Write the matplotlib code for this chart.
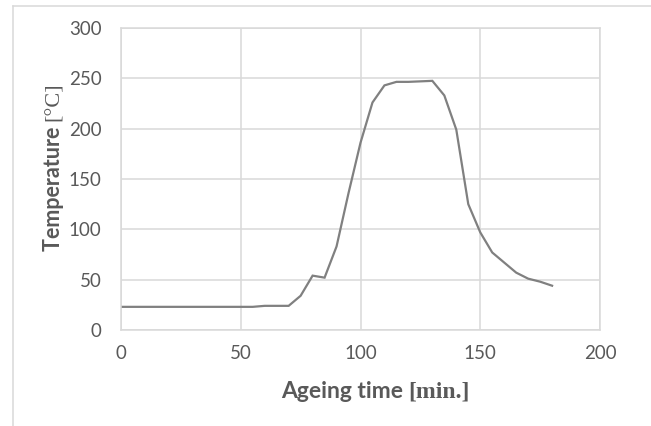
import numpy as np
import matplotlib
matplotlib.use("Agg")
import matplotlib.pyplot as plt
from matplotlib.lines import Line2D

# ageing time [min] and oven temperature [degC]
minutes = [0, 5, 10, 15, 20, 25, 30, 35, 40, 45, 50, 55, 60, 65, 70, 75, 80, 85, 90,
           95, 100, 105, 110, 115, 120, 125, 130, 135, 140, 145, 150, 155, 160, 165,
           170, 175, 180]
temps = [23, 23, 23, 23, 23, 23, 23, 23, 23, 23, 23, 23, 24, 24, 24, 34, 54, 52, 83,
         136, 186, 226, 243, 246.5, 246.5, 247, 247.5, 233, 199, 125, 97, 77, 67, 57,
         51, 48, 44]

x_ticks = [0, 50, 100, 150, 200]
y_ticks = [0, 50, 100, 150, 200, 250, 300]

grid_col = '#d9d9d9'
text_col = '#595959'

fig = plt.figure(figsize=(6.51, 4.26), dpi=100)
ax = fig.add_axes([121/651, 1 - 330/426, 479/651, 302/426])

ax.plot(minutes, temps, color='#808080', lw=1.6, solid_joinstyle='miter')

ax.set_xlim(0, 200)
ax.set_ylim(0, 300)
ax.set_xticks(x_ticks)
ax.set_yticks(y_ticks)
ax.grid(True, color=grid_col, lw=1.1)
ax.set_axisbelow(True)
for s in ax.spines.values():
    s.set_color(grid_col)
    s.set_linewidth(1.1)
ax.tick_params(length=0, labelsize=13.5, colors=text_col)
ax.tick_params(axis='y', pad=14)
ax.tick_params(axis='x', pad=11)
for lab in ax.get_xticklabels() + ax.get_yticklabels():
    lab.set_family('Lato')

# x label: sans part + serif part
t1 = fig.text(281/651, 1 - 392/426, 'Ageing time ', family='Lato', weight='bold',
              size=16.5, color=text_col, va='center', ha='left')
ax.annotate('[min.]', xy=(1, 0.5), xycoords=t1, va='center', ha='left',
            family='Liberation Serif', weight='bold', size=17, color=text_col)

# y label
t2 = fig.text(54/651, 1 - 251/426, 'Temperature ', family='Lato', weight='bold',
              size=15.5, color=text_col, rotation=90, va='bottom', ha='center')
ax.annotate('[°C]', xy=(0.5, 1), xycoords=t2, va='bottom', ha='center', rotation=90,
            family='Liberation Serif', size=16, color=text_col)

# outer chart frame
fig.add_artist(Line2D([13/651, 13/651], [0, 1 - 6/426], transform=fig.transFigure,
                      color=grid_col, lw=1.1))
fig.add_artist(Line2D([13/651, 1], [1 - 6/426, 1 - 6/426], transform=fig.transFigure,
                      color=grid_col, lw=1.1))

fig.savefig('out.png', dpi=100)
